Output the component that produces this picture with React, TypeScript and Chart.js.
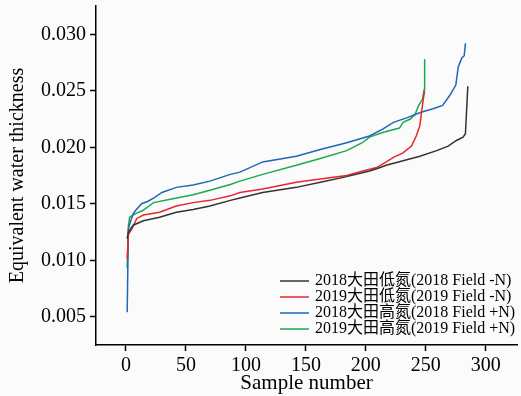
import React, { useEffect, useRef } from "react";
import { Chart, registerables } from "chart.js";

Chart.register(...registerables);

const seriesLabels = [
  "2018大田低氮(2018 Field -N)",
  "2019大田低氮(2019 Field -N)",
  "2018大田高氮(2018 Field +N)",
  "2019大田高氮(2019 Field +N)",
];
const seriesColors = ["#333333", "#e8262d", "#1f66b8", "#1ea84f"];

const black2018X = [1, 2, 6, 14.5, 28, 42, 56, 70, 87, 95, 114, 142, 162, 184, 203, 209, 217, 231, 245, 259, 268.6, 275.5, 281, 283, 285];
const black2018Y = [0.0119, 0.0125, 0.0131, 0.0135, 0.0138, 0.01425, 0.0145, 0.0148, 0.0153, 0.0155, 0.016, 0.01645, 0.0169, 0.0174, 0.0179, 0.0181, 0.0184, 0.0188, 0.0192, 0.0197, 0.0201, 0.0206, 0.0209, 0.0212, 0.0254];

const red2019X = [1, 2, 5, 9, 14.5, 28, 42, 56, 70, 87, 95, 114, 142, 162, 184, 197.5, 209, 217, 223, 231, 238, 242, 245, 246.4, 247.8, 249];
const red2019Y = [0.0101, 0.0123, 0.0128, 0.0137, 0.014, 0.01425, 0.0148, 0.0151, 0.0153, 0.0157, 0.016, 0.0163, 0.0169, 0.0172, 0.0175, 0.0179, 0.0182, 0.0187, 0.0191, 0.0195, 0.0201, 0.021, 0.0219, 0.0231, 0.0242, 0.025];

const blue2018X = [1, 2, 4, 6, 8, 13, 18, 23, 30, 42, 56, 70, 87, 95, 114, 142, 162, 184, 203, 214, 223, 234, 246, 256, 264, 270, 275, 277, 280, 282, 283];
const blue2018Y = [0.0054, 0.0128, 0.0135, 0.0141, 0.0144, 0.015, 0.0152, 0.0155, 0.016, 0.01645, 0.01666, 0.017, 0.0176, 0.0178, 0.0187, 0.0192, 0.0198, 0.0204, 0.021, 0.0216, 0.0222, 0.0226, 0.0231, 0.0234, 0.0237, 0.0246, 0.0255, 0.0271, 0.0279, 0.0281, 0.0292];

const green2019X = [1, 2, 3, 7.5, 14, 23, 37, 56, 70, 87, 95, 114, 142, 162, 184, 197, 203, 214, 228, 231, 237, 241, 244, 247, 248.6, 249];
const green2019Y = [0.0093, 0.013, 0.0138, 0.0141, 0.0144, 0.0151, 0.0154, 0.0158, 0.0162, 0.0167, 0.017, 0.0176, 0.0184, 0.019, 0.0197, 0.0204, 0.0209, 0.0213, 0.0217, 0.0222, 0.0225, 0.0229, 0.0237, 0.0242, 0.0251, 0.0278];

const xTicks = [0, 50, 100, 150, 200, 250, 300];
const yTicks = [0.005, 0.01, 0.015, 0.02, 0.025, 0.03];

const serif = "'Liberation Serif', 'Noto Sans CJK SC', serif";

function pts(xs: number[], ys: number[]) {
  return xs.map((x, i) => ({ x, y: ys[i] }));
}

const legendPlugin = {
  id: "customLegend",
  afterDraw(chart: any) {
    const { ctx } = chart;
    const rows = [281, 297, 313, 329];
    ctx.save();
    ctx.font = `16px ${serif}`;
    ctx.textBaseline = "middle";
    ctx.textAlign = "left";
    seriesLabels.forEach((label, i) => {
      const y = rows[i];
      ctx.strokeStyle = seriesColors[i];
      ctx.lineWidth = 1.5;
      ctx.beginPath();
      ctx.moveTo(280, y);
      ctx.lineTo(309, y);
      ctx.stroke();
      ctx.fillStyle = "#000";
      ctx.fillText(label, 315, y);
    });
    ctx.restore();
  },
};

const bgPlugin = {
  id: "bg",
  beforeDraw(chart: any) {
    const { ctx, width, height } = chart;
    ctx.save();
    ctx.fillStyle = "#fbfbfb";
    ctx.fillRect(0, 0, width, height);
    ctx.restore();
  },
};

export default function App() {
  const ref = useRef<HTMLCanvasElement | null>(null);
  useEffect(() => {
    document.body.style.margin = "0";
    const canvas = ref.current!;
    const mk = (xs: number[], ys: number[], i: number) => ({
      label: seriesLabels[i],
      data: pts(xs, ys),
      borderColor: seriesColors[i],
      backgroundColor: seriesColors[i],
      borderWidth: 1.5,
      pointRadius: 0,
      tension: 0,
      fill: false,
    });
    const chart = new Chart(canvas, {
      type: "line",
      data: {
        datasets: [
          mk(black2018X, black2018Y, 0),
          mk(red2019X, red2019Y, 1),
          mk(blue2018X, blue2018Y, 2),
          mk(green2019X, green2019Y, 3),
        ],
      },
      options: {
        animation: false,
        responsive: false,
        maintainAspectRatio: false,
        layout: { padding: { top: 6, right: 4, left: 0, bottom: 0 } },
        plugins: { legend: { display: false }, tooltip: { enabled: false } },
        scales: {
          x: {
            type: "linear",
            min: -25,
            max: 326,
            afterBuildTicks: (s: any) => {
              s.ticks = xTicks.map((v) => ({ value: v }));
            },
            afterFit: (s: any) => {
              s.height = 51;
              s.paddingLeft = 0;
              s.paddingRight = 0;
            },
            border: { display: true, color: "#000", width: 1.5 },
            grid: { drawOnChartArea: false, drawTicks: true, tickLength: 6, tickColor: "#000", tickWidth: 1.5 },
            ticks: { color: "#000", font: { family: serif, size: 20 }, padding: 3, maxRotation: 0 },
            title: { display: true, text: "Sample number", color: "#000", font: { family: serif, size: 21 }, padding: { top: 0, bottom: 0 } },
          },
          y: {
            type: "linear",
            min: 0.0025,
            max: 0.0325,
            afterBuildTicks: (s: any) => {
              s.ticks = yTicks.map((v) => ({ value: v }));
            },
            afterFit: (s: any) => {
              s.width = 96;
              s.paddingTop = 0;
              s.paddingBottom = 0;
            },
            border: { display: true, color: "#000", width: 1.5 },
            grid: { drawOnChartArea: false, drawTicks: true, tickLength: 6, tickColor: "#000", tickWidth: 1.5 },
            ticks: { color: "#000", font: { family: serif, size: 20 }, padding: 4, callback: (v: any) => Number(v).toFixed(3) },
            title: { display: true, text: "Equivalent water thickness", color: "#000", font: { family: serif, size: 20 }, padding: { top: 6, bottom: 0 } },
          },
        },
      },
      plugins: [bgPlugin, legendPlugin],
    });
    return () => chart.destroy();
  }, []);
  return <canvas ref={ref} width={521} height={396} style={{ display: "block" }} />;
}
